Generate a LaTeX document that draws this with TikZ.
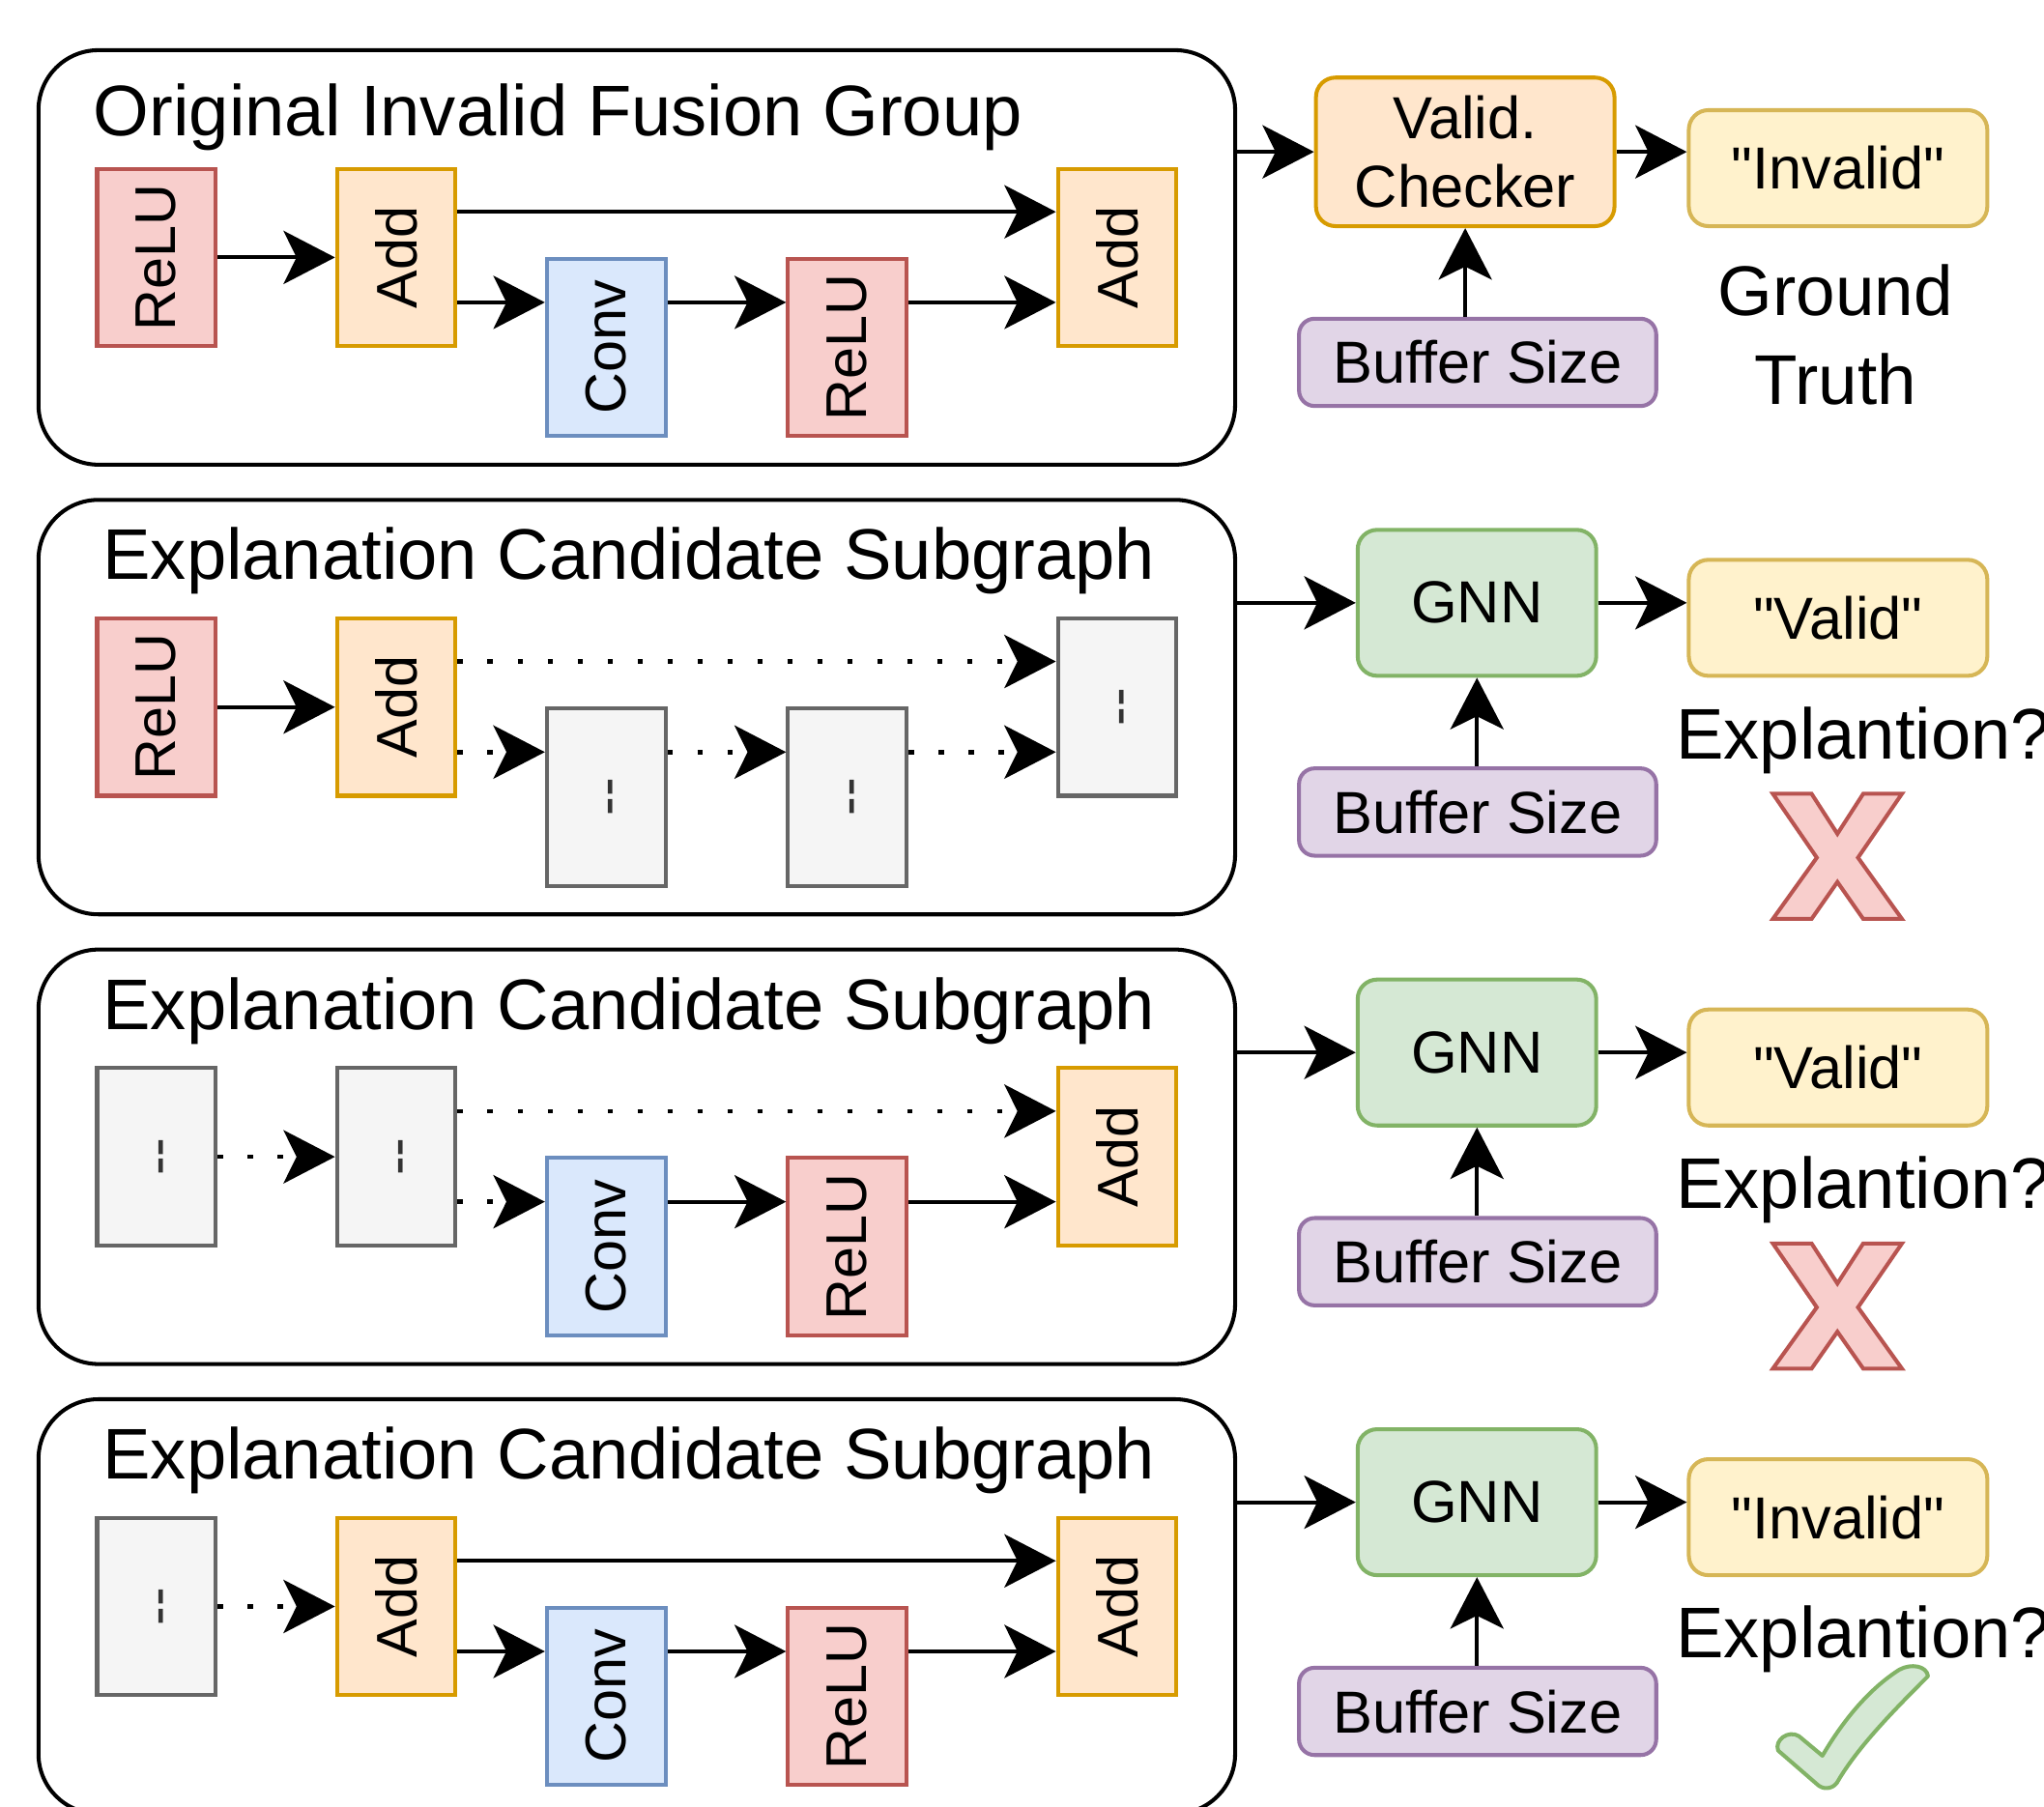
\documentclass[tikz,border=0pt]{standalone}
\usepackage{fontspec}
\setmainfont{Liberation Sans}[Ligatures=TeXOff]
\usepackage{graphicx}
\usetikzlibrary{arrows.meta}
\definecolor{redF}{HTML}{F8CECC}\definecolor{redD}{HTML}{B85450}
\definecolor{orF}{HTML}{FFE6CC}\definecolor{orD}{HTML}{D79B00}
\definecolor{blF}{HTML}{DAE8FC}\definecolor{blD}{HTML}{6C8EBF}
\definecolor{grF}{HTML}{F5F5F5}\definecolor{grD}{HTML}{666666}\definecolor{grT}{HTML}{333333}
\definecolor{ylF}{HTML}{FFF2CC}\definecolor{ylD}{HTML}{D6B656}
\definecolor{puF}{HTML}{E1D5E7}\definecolor{puD}{HTML}{9673A6}
\definecolor{gnF}{HTML}{D5E8D4}\definecolor{gnD}{HTML}{82B366}
\newcommand\rotT[1]{\rotatebox{90}{#1}}
\newcommand\dashT{\rotatebox{90}{\raisebox{0pt}[0.7em][0pt]{-{}-}}}
\newcommand\drawX[1]{\begin{scope}[shift={(1360,#1)}]
\draw[xm] (0,0) -- (29.7,0) -- (49.5,30.7) -- (69.3,0) -- (99,0) -- (65.3,49) -- (99,96) -- (69.3,96) -- (49.5,67.7) -- (29.7,96) -- (0,96) -- (33.7,49) -- cycle;
\end{scope}}
\tikzset{
  op/.style={draw, line width=1.5pt, minimum width=45.5pt, minimum height=68pt, inner sep=0pt, font=\fontsize{22}{26}\selectfont},
  relu/.style={op, fill=redF, draw=redD},
  addn/.style={op, fill=orF, draw=orD},
  convn/.style={op, fill=blF, draw=blD},
  grayn/.style={op, fill=grF, draw=grD, text=grT},
  grp/.style={draw, line width=1.5pt, rounded corners=23pt, minimum width=459pt, minimum height=159pt, inner sep=0pt},
  ttl/.style={anchor=base west, inner sep=0pt, font=\fontsize{27.5}{33}\selectfont},
  rbox/.style={draw, line width=1.5pt, rounded corners=7.5pt, inner sep=0pt, font=\fontsize{22.75}{26.5}\selectfont, align=center},
  chkbox/.style={rbox, fill=orF, draw=orD, minimum width=114.5pt, minimum height=57pt},
  gnn/.style={rbox, fill=gnF, draw=gnD, minimum width=91.5pt, minimum height=56pt},
  res/.style={rbox, fill=ylF, draw=ylD, minimum width=114.5pt, minimum height=44.5pt},
  buf/.style={rbox, fill=puF, draw=puD, minimum width=137pt, minimum height=33.5pt, rounded corners=6pt},
  arr/.style={line width=1.5pt, -{Stealth[length=19.75pt,width=20.4pt,inset=5pt]}},
  dotarr/.style={arr, line width=1.75pt, dash pattern=on 2pt off 9.5pt},
  xm/.style={fill=redF, draw=redD, line width=1.5pt, line join=miter},
  ckm/.style={fill=gnF, draw=gnD, line width=1.5pt, line join=round},
  expl/.style={anchor=base west, inner sep=0pt, font=\fontsize{27.5}{33}\selectfont},
}
\begin{document}
\begin{tikzpicture}[x=0.5pt,y=-0.5pt]
\useasboundingbox (0,0) rectangle (1568,1386);
\clip (0,0) rectangle (1568,1386);

% ---------------- Row 1 ----------------
\node[grp] (g1) at (488.5,197.5) {};
\node[ttl] (t1) at (71.5,104) {Original Invalid Fusion Group};
\node[relu] (r1a) at (120,197.5) {\rotT{ReLU}};
\node[addn] (r1b) at (304,197.5) {\rotT{Add}};
\node[convn] (r1c) at (465,266.5) {\rotT{Conv}};
\node[relu] (r1d) at (650,266.5) {\rotT{ReLU}};
\node[addn] (r1e) at (857,197.5) {\rotT{Add}};
\draw[arr] (r1a.east) -- (r1b.west);
\draw[arr] ([yshift=17.5pt]r1b.east) -- ([yshift=17.5pt]r1e.west);
\draw[arr] ([yshift=-17.25pt]r1b.east) -- ([yshift=17.25pt]r1c.west);
\draw[arr] ([yshift=17.25pt]r1c.east) -- ([yshift=17.25pt]r1d.west);
\draw[arr] ([yshift=17.25pt]r1d.east) -- ([yshift=-17.25pt]r1e.west);

\node[chkbox] (chk) at (1124,116.5) {Valid.\\Checker};
\node[res] (res1) at (1410,129) {"Invalid"};
\node[buf] (buf1) at (1133.5,278) {Buffer Size};
\draw[arr] (chk.west -| g1.east) -- (chk.west);
\draw[arr] (chk.east) -- (chk.east -| res1.west);
\draw[arr] (buf1.north -| chk.south) -- (chk.south);
\node[font=\fontsize{27}{34}\selectfont, align=center, inner sep=0pt] (gt) at (1408,257) {Ground\\Truth};

% ---------------- Row 2 ----------------
\node[grp] (g2) at (488.5,542.5) {};
\node[ttl] (t2) at (78.5,444.3) {Explanation Candidate Subgraph};
\node[relu] (r2a) at (120,542.5) {\rotT{ReLU}};
\node[addn] (r2b) at (304,542.5) {\rotT{Add}};
\node[grayn] (r2c) at (465,611.5) {\dashT};
\node[grayn] (r2d) at (650,611.5) {\dashT};
\node[grayn] (r2e) at (857,542.5) {\dashT};
\draw[arr] (r2a.east) -- (r2b.west);
\draw[dotarr] ([yshift=17.5pt]r2b.east) -- ([yshift=17.5pt]r2e.west);
\draw[dotarr] ([yshift=-17.25pt]r2b.east) -- ([yshift=17.25pt]r2c.west);
\draw[dotarr] ([yshift=17.25pt]r2c.east) -- ([yshift=17.25pt]r2d.west);
\draw[dotarr] ([yshift=17.25pt]r2d.east) -- ([yshift=-17.25pt]r2e.west);

\node[gnn] (gnn2) at (1133,462.5) {GNN};
\node[res] (res2) at (1410,474) {"Valid"};
\node[buf] (buf2) at (1133.5,623) {Buffer Size};
\draw[arr] (gnn2.west -| g2.east) -- (gnn2.west);
\draw[arr] (gnn2.east) -- (gnn2.east -| res2.west);
\draw[arr] (buf2.north -| gnn2.south) -- (gnn2.south);
\node[expl] (e2) at (1285.4,582) {Explantion?};
\drawX{609}

% ---------------- Row 3 ----------------
\node[grp] (g3) at (488.5,887.5) {};
\node[ttl] (t3) at (78.5,789.6) {Explanation Candidate Subgraph};
\node[grayn] (r3a) at (120,887.5) {\dashT};
\node[grayn] (r3b) at (304,887.5) {\dashT};
\node[convn] (r3c) at (465,956.5) {\rotT{Conv}};
\node[relu] (r3d) at (650,956.5) {\rotT{ReLU}};
\node[addn] (r3e) at (857,887.5) {\rotT{Add}};
\draw[dotarr] (r3a.east) -- (r3b.west);
\draw[dotarr] ([yshift=17.5pt]r3b.east) -- ([yshift=17.5pt]r3e.west);
\draw[dotarr] ([yshift=-17.25pt]r3b.east) -- ([yshift=17.25pt]r3c.west);
\draw[arr] ([yshift=17.25pt]r3c.east) -- ([yshift=17.25pt]r3d.west);
\draw[arr] ([yshift=17.25pt]r3d.east) -- ([yshift=-17.25pt]r3e.west);

\node[gnn] (gnn3) at (1133,807.5) {GNN};
\node[res] (res3) at (1410,819) {"Valid"};
\node[buf] (buf3) at (1133.5,968) {Buffer Size};
\draw[arr] (gnn3.west -| g3.east) -- (gnn3.west);
\draw[arr] (gnn3.east) -- (gnn3.east -| res3.west);
\draw[arr] (buf3.north -| gnn3.south) -- (gnn3.south);
\node[expl] (e3) at (1285.4,927) {Explantion?};
\drawX{954}

% ---------------- Row 4 ----------------
\node[grp] (g4) at (488.5,1232.5) {};
\node[ttl] (t4) at (78.5,1134.9) {Explanation Candidate Subgraph};
\node[grayn] (r4a) at (120,1232.5) {\dashT};
\node[addn] (r4b) at (304,1232.5) {\rotT{Add}};
\node[convn] (r4c) at (465,1301.5) {\rotT{Conv}};
\node[relu] (r4d) at (650,1301.5) {\rotT{ReLU}};
\node[addn] (r4e) at (857,1232.5) {\rotT{Add}};
\draw[dotarr] (r4a.east) -- (r4b.west);
\draw[arr] ([yshift=17.5pt]r4b.east) -- ([yshift=17.5pt]r4e.west);
\draw[arr] ([yshift=-17.25pt]r4b.east) -- ([yshift=17.25pt]r4c.west);
\draw[arr] ([yshift=17.25pt]r4c.east) -- ([yshift=17.25pt]r4d.west);
\draw[arr] ([yshift=17.25pt]r4d.east) -- ([yshift=-17.25pt]r4e.west);

\node[gnn] (gnn4) at (1133,1152.5) {GNN};
\node[res] (res4) at (1410,1164) {"Invalid"};
\node[buf] (buf4) at (1133.5,1313) {Buffer Size};
\draw[arr] (gnn4.west -| g4.east) -- (gnn4.west);
\draw[arr] (gnn4.east) -- (gnn4.east -| res4.west);
\draw[arr] (buf4.north -| gnn4.south) -- (gnn4.south);
\node[expl] (e4) at (1285.4,1272) {Explantion?};
\draw[ckm] (1364,1343) .. controls (1361,1335) and (1372,1327) .. (1380,1332) -- (1398,1347) .. controls (1415,1318) and (1435,1295) .. (1457,1281) .. controls (1466,1276) and (1478,1278) .. (1479,1286) .. controls (1455,1310) and (1425,1340) .. (1409,1368) .. controls (1405,1373) and (1398,1373) .. (1394,1369) -- cycle;
\end{tikzpicture}
\end{document}
